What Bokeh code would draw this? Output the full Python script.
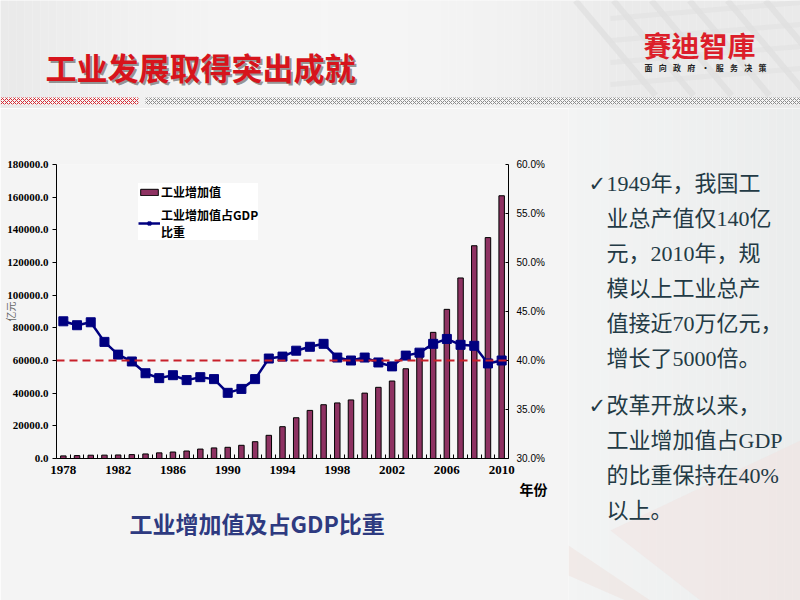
import numpy as np
from bokeh.plotting import figure
from bokeh.models import (Range1d, LinearAxis, FixedTicker, PrintfTickFormatter,
                          Title, Legend, LegendItem, Arrow)
from bokeh.layouts import column, row
from bokeh.embed import file_html
from bokeh.resources import INLINE
from bokeh.core.properties import value

# ---------------- data ----------------
years = list(range(1978, 2011))
industry_value = [1607, 1770, 2015, 2062, 2163, 2376, 2789, 3448, 3967, 4586,
                  5777, 6484, 6858, 8087, 10284, 14188, 19481, 24951, 29448,
                  32921, 34018, 35861, 40034, 43581, 47431, 54946, 65210,
                  77231, 91311, 110535, 130260, 135240, 160867]
share_gdp = [44.0, 43.6, 43.9, 41.9, 40.6, 39.9, 38.7, 38.2, 38.5, 38.0, 38.3,
             38.1, 36.7, 37.1, 38.1, 40.2, 40.4, 41.0, 41.4, 41.7, 40.3, 40.0,
             40.3, 39.8, 39.4, 40.5, 40.8, 41.7, 42.2, 41.6, 41.5, 39.7, 40.0]
threshold = 40.0
x_tick_years = years[::4]
left_ticks = list(range(0, 180001, 20000))
right_ticks = [30, 35, 40, 45, 50, 55, 60]

title_text = "工业发展取得突出成就"
logo_text = "賽迪智庫"
logo_sub = "面向政府·服务决策"
caption_text = "工业增加值及占GDP比重"
bullet1 = ["1949年，我国工", "业总产值仅140亿", "元，2010年，规", "模以上工业总产",
           "值接近70万亿元，", "增长了5000倍。"]
bullet2 = ["改革开放以来，", "工业增加值占GDP", "的比重保持在40%", "以上。"]

CJK = "Noto Sans CJK SC"
BG = "#f4f4f4"

def gray(v):
    v = int(max(0, min(255, v)))
    return "#%02x%02x%02x" % (v, v, v)

def blank(fig):
    fig.axis.visible = False
    fig.xgrid.visible = False
    fig.ygrid.visible = False
    fig.outline_line_color = None

# ---------------- header ----------------
hdr = figure(width=800, height=108, x_range=Range1d(0, 800), y_range=Range1d(108, 0),
             output_backend="svg", toolbar_location=None, min_border=0)
blank(hdr)
hdr.background_fill_color = BG
hdr.border_fill_color = BG
hx = np.linspace(0, 800, 101)
hcols = [gray(234 + 12 * np.sin(np.pi * min(1.0, a / 640.0))) for a in hx[:-1]]
hdr.quad(left=hx[:-1], right=hx[1:], top=0, bottom=108, fill_color=hcols, line_color=None)
for k in range(6):
    hdr.line(x=[575 + 38 * k, 655 + 38 * k], y=[0, 95], line_color="#dadada", line_width=6, line_alpha=0.55)
for k in range(4):
    hdr.line(x=[610, 800], y=[18 + 22 * k, 2 + 22 * k], line_color="#e0e0e0", line_width=5, line_alpha=0.55)
hdr.text(x=[47], y=[68], text=[title_text], text_font=value(CJK), text_font_style="bold",
         text_font_size="31px", text_color="#444444", text_alpha=0.55, text_baseline="middle")
hdr.text(x=[45], y=[66], text=[title_text], text_font=value(CJK), text_font_style="bold",
         text_font_size="31px", text_color="#d7141c", text_baseline="middle")
hdr.text(x=[643], y=[44], text=[logo_text], text_font=value("Noto Sans CJK TC"), text_font_style="bold",
         text_font_size="28px", text_color="#dc1e2a", text_baseline="middle")
sub_x = np.linspace(648, 762, len(logo_sub))
hdr.text(x=sub_x, y=[67] * len(logo_sub), text=list(logo_sub), text_font=value(CJK),
         text_font_style="bold", text_font_size="8px", text_color="#222222",
         text_baseline="middle", text_align="center")
hdr.quad(left=[0], right=[138], top=[97], bottom=[104], fill_color="#f6f6f6", line_color=None,
         hatch_pattern="x", hatch_color="#d42a33", hatch_scale=4, hatch_weight=1)
hdr.quad(left=[145], right=[800], top=[97], bottom=[104], fill_color="#f6f6f6", line_color=None,
         hatch_pattern="x", hatch_color="#8c8c8c", hatch_scale=4, hatch_weight=1)

# ---------------- chart ----------------
p = figure(frame_width=452, frame_height=294, min_border_left=56, min_border_right=60,
           min_border_top=56, min_border_bottom=142,
           x_range=Range1d(1977.5, 2010.5), y_range=Range1d(0, 180000),
           output_backend="svg", toolbar_location=None)
p.background_fill_color = "#f6f6f6"
p.border_fill_color = BG
p.outline_line_color = None
p.xgrid.visible = False
p.ygrid.visible = False
p.extra_y_ranges = {"pct": Range1d(30, 60)}

bars = p.vbar(x=years, top=industry_value, width=0.4, fill_color="#8e3262",
              line_color="black", line_width=1)
ln = p.line(x=years, y=share_gdp, y_range_name="pct", line_color="#000080", line_width=2.5)
sq = p.scatter(x=years, y=share_gdp, y_range_name="pct", marker="square", size=9,
               fill_color="#000080", line_color="#000080")

p.add_layout(Arrow(end=None, x_start=1977.5, x_end=2013.6, y_start=threshold, y_end=threshold,
                   y_range_name="pct", line_color="#c8202a", line_width=2, line_dash="8 5"))

xa = p.xaxis[0]
xa.ticker = FixedTicker(ticks=x_tick_years, minor_ticks=[y + 0.5 for y in years[:-1]])
xa.major_tick_in = 0
xa.major_tick_out = 0
xa.minor_tick_in = 4
xa.minor_tick_out = 0
xa.axis_line_color = "black"
xa.major_label_text_font = "Liberation Serif"
xa.major_label_text_font_style = "bold"
xa.major_label_text_font_size = "13px"
xa.major_label_text_color = "black"
xa.major_label_standoff = 7

ya = p.yaxis[0]
ya.ticker = FixedTicker(ticks=left_ticks, minor_ticks=[])
ya.formatter = PrintfTickFormatter(format="%.1f")
ya.major_tick_out = 4
ya.major_tick_in = 0
ya.major_label_text_font = "Liberation Serif"
ya.major_label_text_font_style = "bold"
ya.major_label_text_font_size = "11px"
ya.major_label_text_color = "black"
ya.major_label_standoff = 4
ya.axis_line_color = "black"
ya.axis_label = "亿元"
ya.axis_label_text_font = CJK
ya.axis_label_text_font_size = "10px"
ya.axis_label_text_font_style = "normal"
ya.axis_label_text_color = "#666666"
ya.axis_label_standoff = -14

ra = LinearAxis(y_range_name="pct", ticker=FixedTicker(ticks=right_ticks, minor_ticks=[]),
                formatter=PrintfTickFormatter(format="%.1f%%"))
ra.major_tick_in = 3
ra.major_tick_out = 0
ra.major_label_standoff = 8
ra.major_label_text_font = "Liberation Sans"
ra.major_label_text_font_size = "10px"
ra.major_label_text_color = "black"
ra.axis_line_color = "black"
p.add_layout(ra, "right")

legend = Legend(items=[LegendItem(label="工业增加值", renderers=[bars]),
                       LegendItem(label="工业增加值占GDP\n比重", renderers=[ln, sq])],
                location=(82, 218))
legend.label_text_font = CJK
legend.label_text_font_style = "bold"
legend.label_text_font_size = "12px"
legend.label_text_color = "black"
legend.glyph_width = 22
legend.glyph_height = 8
legend.label_standoff = 1
legend.padding = 3
legend.spacing = 6
legend.margin = 0
legend.label_height = 12
legend.border_line_color = None
legend.background_fill_color = "white"
legend.background_fill_alpha = 1.0
p.add_layout(legend)

p.add_layout(Title(text="年份", align="right", offset=-39, standoff=0, text_font=CJK,
                   text_font_style="bold", text_font_size="14px", text_color="black"), "below")
p.add_layout(Title(text=caption_text, align="left", offset=73, standoff=10, text_font=CJK,
                   text_font_style="bold", text_font_size="23px", text_color="#2e3a80"), "below")

# ---------------- bullet text panel ----------------
tp = figure(width=232, height=492, x_range=Range1d(568, 800), y_range=Range1d(600, 108),
            output_backend="svg", toolbar_location=None, min_border=0)
blank(tp)
tp.background_fill_color = BG
tp.border_fill_color = BG
tx = np.linspace(568, 800, 30)
tcols = ["#%02x%02x%02x" % (int(243 - 8 * (a - 568) / 232), int(244 - 7 * (a - 568) / 232),
                            int(244 - 7 * (a - 568) / 232)) for a in tx[:-1]]
tp.quad(left=tx[:-1], right=tx[1:], top=108, bottom=600, fill_color=tcols, line_color=None)
tp.patch(x=[610, 800, 800, 700], y=[530, 440, 600, 600], fill_color="#f1e2df", fill_alpha=0.5, line_color=None)
tp.patch(x=[568, 650, 625, 568], y=[545, 600, 600, 575], fill_color="#eedcd8", fill_alpha=0.4, line_color=None)

font_mix = value("Liberation Serif, Noto Sans CJK SC")
y1 = [183 + 35 * i for i in range(len(bullet1))]
y2 = [405 + 35 * i for i in range(len(bullet2))]
tp.text(x=[606] * len(bullet1), y=y1, text=bullet1, text_font=font_mix, text_font_size="22px",
        text_color="#233a45", text_baseline="middle")
tp.text(x=[606] * len(bullet2), y=y2, text=bullet2, text_font=font_mix, text_font_size="22px",
        text_color="#233a45", text_baseline="middle")
tp.text(x=[588, 588], y=[y1[0], y2[0]], text=["✓", "✓"], text_font=value("DejaVu Sans"),
        text_font_size="21px", text_color="#233a45", text_baseline="middle")

layout = column(hdr, row(column(p), column(tp), spacing=0), spacing=0)
open("out.html", "w").write(file_html(layout, INLINE))
